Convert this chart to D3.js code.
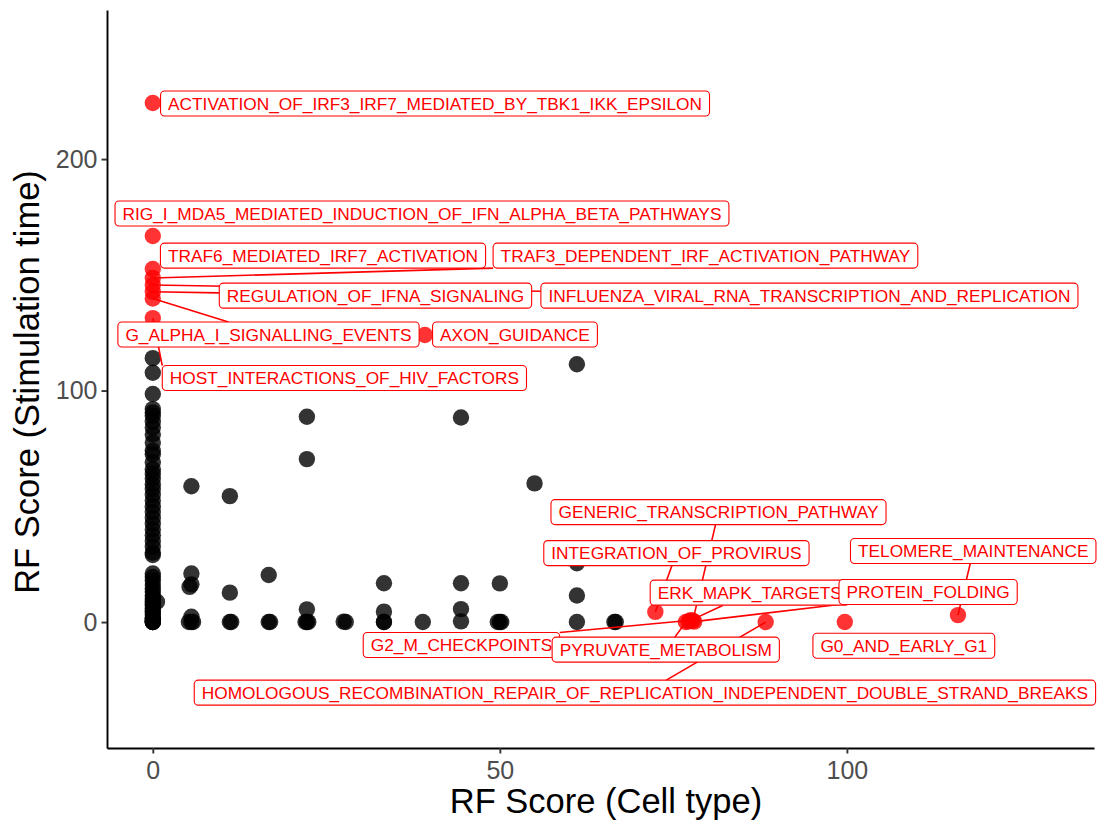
<!DOCTYPE html>
<html><head><meta charset="utf-8">
<script src="https://cdn.jsdelivr.net/npm/d3@7"></script>
<style>body{margin:0;background:#fff} text{font-family:"Liberation Sans",Arial,sans-serif}</style>
</head><body><svg id="chart" width="1100" height="823"></svg>
<script>
// ---------- data ----------
const xTicks = [0, 50, 100];
const yTicks = [0, 100, 200];
const xTitle = "RF Score (Cell type)";
const yTitle = "RF Score (Stimulation time)";

// unlabelled pathways with Cell-type score 0
const zeroColumnY = [114, 107.7, 98.5, 92, 90.5, 89, 86.5, 84, 81, 77.5,
  74, 72.5, 69, 66, 64, 62, 59.5, 57.5, 55, 52.5,
  50, 47.5, 45, 42.5, 40, 37.5, 35, 32.5, 30, 29,
  21, 19.5, 18, 16, 14.5, 13, 11.5, 10, 9, 8,
  7, 6, 5, 4, 3, 2, 1.5, 1, 0.5, 0, 0, 0, 0];
// other unlabelled pathways
const otherX = [0.6, 5.56, 5.56, 5.56, 5.3, 5.56, 5.56, 5.2, 5.8,
  11.1, 11.1, 11.1, 11.3, 16.7, 16.7, 16.9,
  22.2, 22.2, 22.2, 22.2, 22.4, 22.0, 27.8, 27.5,
  33.3, 33.3, 33.3, 33.3, 38.9, 44.4, 44.4, 44.4, 44.4,
  50, 50, 50.2, 49.7, 55.0, 61.1, 61.1, 61.1, 61.1, 66.7, 66.5];
const otherY = [8.8, 58.7, 21, 16.3, 15.2, 2.3, 0, 0, 0,
  54.4, 12.7, 0, 0, 20.3, 0, 0,
  88.7, 70.4, 5.5, 0, 0, 0, 0, 0.2,
  16.8, 4.5, 0, 0, 0, 88.4, 16.8, 5.6, 0.3,
  16.7, 0, 0, 0, 59.9, 111.4, 25.4, 11.5, 0, 0, 0];

// labelled (top) pathways
const labelNames = [
  "ACTIVATION_OF_IRF3_IRF7_MEDIATED_BY_TBK1_IKK_EPSILON",
  "RIG_I_MDA5_MEDIATED_INDUCTION_OF_IFN_ALPHA_BETA_PATHWAYS",
  "TRAF6_MEDIATED_IRF7_ACTIVATION",
  "TRAF3_DEPENDENT_IRF_ACTIVATION_PATHWAY",
  "REGULATION_OF_IFNA_SIGNALING",
  "INFLUENZA_VIRAL_RNA_TRANSCRIPTION_AND_REPLICATION",
  "G_ALPHA_I_SIGNALLING_EVENTS",
  "AXON_GUIDANCE",
  "HOST_INTERACTIONS_OF_HIV_FACTORS",
  "GENERIC_TRANSCRIPTION_PATHWAY",
  "INTEGRATION_OF_PROVIRUS",
  "TELOMERE_MAINTENANCE",
  "ERK_MAPK_TARGETS",
  "PROTEIN_FOLDING",
  "G2_M_CHECKPOINTS",
  "PYRUVATE_METABOLISM",
  "G0_AND_EARLY_G1",
  "HOMOLOGOUS_RECOMBINATION_REPAIR_OF_REPLICATION_INDEPENDENT_DOUBLE_STRAND_BREAKS"
];
const labelPointX = [0, 0, 0, 0, 0, 0, 0, 39.2, 0, 77.8, 72.4, 116.0, 77.2, 78.0, 77.5, 76.8, 99.7, 88.3];
const labelPointY = [224.2, 166.8, 152.5, 148.6, 142.7, 145.6, 139.8, 124.0, 131.3, 0.6, 4.4, 3.0, 0.3, 0.2, 0.8, 0.0, 0.0, 0.0];
// repelled label centres (data units)
const labelCenterX = [40.66, 38.78, 24.52, 79.62, 32.08, 94.6, 16.67, 52.18, 27.6, 81.5, 75.44, 118.2, 86.0, 111.7, 44.47, 73.9, 108.2, 70.9];
const labelCenterY = [224.0, 176.5, 158.3, 158.3, 141.0, 141.0, 124.2, 124.2, 105.4, 47.5, 29.8, 30.7, 12.7, 13.0, -9.9, -11.9, -10.2, -30.5];

// ---------- chart ----------
const svg = d3.select("#chart");
const x = d3.scaleLinear().domain([-6.6, 135.6]).range([107, 1094]);
const y = d3.scaleLinear().domain([-54.4, 264.4]).range([748, 10]);
const R = 8.2;

const blackPts = zeroColumnY.map(v => [0, v]).concat(otherX.map((v, i) => [v, otherY[i]]));
svg.append("g").selectAll("circle").data(blackPts).join("circle")
  .attr("cx", d => x(d[0])).attr("cy", d => y(d[1])).attr("r", R)
  .attr("fill", "#000").attr("fill-opacity", 0.8);

const labels = labelNames.map((n, i) => ({name: n, px: labelPointX[i], py: labelPointY[i], cx: labelCenterX[i], cy: labelCenterY[i]}));
svg.append("g").selectAll("circle").data(labels).join("circle")
  .attr("cx", d => x(d.px)).attr("cy", d => y(d.py)).attr("r", R)
  .attr("fill", "#FF0000").attr("fill-opacity", 0.8);

// axes
const gx = svg.append("g").attr("transform", "translate(0,748)")
  .call(d3.axisBottom(x).tickValues(xTicks).tickSize(5.5).tickSizeOuter(0).tickPadding(8));
const gy = svg.append("g").attr("transform", "translate(107,0)")
  .call(d3.axisLeft(y).tickValues(yTicks).tickSize(5.5).tickSizeOuter(0).tickPadding(4));
[gx, gy].forEach(g => {
  g.select(".domain").attr("stroke", "#000").attr("stroke-width", 1.9);
  g.selectAll(".tick line").attr("stroke", "#333").attr("stroke-width", 1.9);
  g.selectAll(".tick text").attr("fill", "#4D4D4D").style("font-size", "25px")
    .style("font-family", '"Liberation Sans",Arial,sans-serif');
});

svg.append("text").attr("x", 606).attr("y", 813).attr("text-anchor", "middle")
  .style("font-size", "34.5px").attr("fill", "#000").text(xTitle);
svg.append("text").attr("transform", "translate(39,382) rotate(-90)").attr("text-anchor", "middle")
  .style("font-size", "34.5px").attr("fill", "#000").text(yTitle);

// labels (ggrepel style)
const segLayer = svg.append("g");
const labLayer = svg.append("g");
const FS = 17.3, BH = 25, PADX = 7.5;
labels.forEach(d => {
  const g = labLayer.append("g");
  const rect = g.append("rect");
  const cxp = x(d.cx), cyp = y(d.cy);
  const t = g.append("text").attr("x", cxp).attr("y", cyp + FS * 0.35)
    .attr("text-anchor", "middle").style("font-size", FS + "px").attr("fill", "#FF0000").text(d.name);
  const w = t.node().getComputedTextLength() + 2 * PADX;
  rect.attr("x", cxp - w / 2).attr("y", cyp - BH / 2).attr("width", w).attr("height", BH)
    .attr("rx", 4).attr("ry", 4).attr("fill", "#fff").attr("stroke", "#FF0000").attr("stroke-width", 1.1);
  // segment from point to label box
  const px = x(d.px), py = y(d.py);
  const hw = w / 2, hh = BH / 2;
  const x1 = cxp - hw, x2 = cxp + hw, y1 = cyp - hh, y2 = cyp + hh;
  const nx = Math.max(x1, Math.min(px, x2));
  const ny = Math.max(y1, Math.min(py, y2));
  const near = Math.hypot(px - nx, py - ny);
  if (near - R < 6) return;
  let ex, ey;
  const outX = px < x1 || px > x2, outY = py < y1 || py > y2;
  if (outX && outY) { ex = nx; ey = ny; }
  else {
    const dx = cxp - px, dy = cyp - py;
    const tx = dx !== 0 ? (Math.abs(dx) - hw) / Math.abs(dx) : -Infinity;
    const ty = dy !== 0 ? (Math.abs(dy) - hh) / Math.abs(dy) : -Infinity;
    const tt = Math.max(tx, ty);
    if (tt <= 0) return;
    ex = px + tt * dx; ey = py + tt * dy;
  }
  segLayer.append("line").attr("x1", px).attr("y1", py).attr("x2", ex).attr("y2", ey)
    .attr("stroke", "#FF0000").attr("stroke-width", 1.6);
});
</script></body></html>
